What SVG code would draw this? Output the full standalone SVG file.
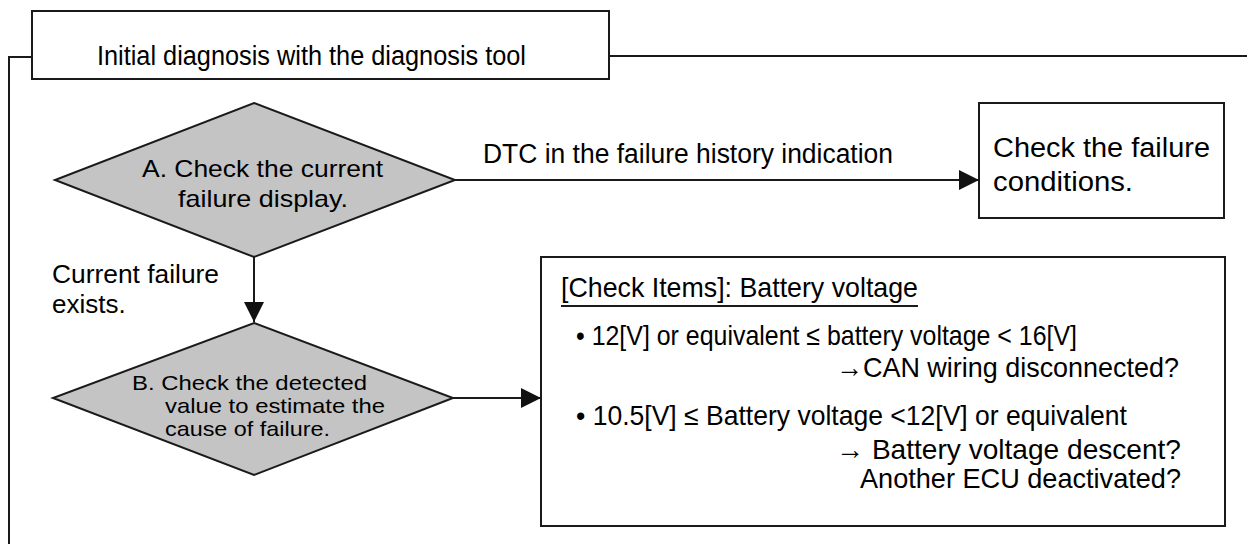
<svg xmlns="http://www.w3.org/2000/svg" width="1247" height="544" viewBox="0 0 1247 544">
<defs>
<marker id="ah" markerUnits="userSpaceOnUse" markerWidth="20" markerHeight="20" refX="20" refY="10" orient="auto" viewBox="0 0 20 20"><path d="M0,0 L20,10 L0,20 z" fill="#111"/></marker>
</defs>
<style>
text{font-family:"Liberation Sans",Arial,sans-serif;font-size:26px;fill:#000}
.box{fill:#fff;stroke:#1a1a1a;stroke-width:2}
.dia{fill:#c4c4c4;stroke:#1a1a1a;stroke-width:2}
.ln{fill:none;stroke:#1a1a1a;stroke-width:2}
.sm{font-size:21px}
.md{font-size:24px}
.lg{font-size:27px}
.bx{font-size:28px}
</style>
<g id="frame">
<path class="ln" d="M9,544 V57 H32"/>
<path class="ln" d="M609,56 H1247"/>
</g>
<g id="title">
<rect class="box" x="32" y="11" width="577" height="68"/>
<text class="lg" x="97" y="65" textLength="429" lengthAdjust="spacingAndGlyphs">Initial diagnosis with the diagnosis tool</text>
</g>
<g id="nodeA">
<polygon class="dia" points="254,103 455,180 254,257 55,180"/>
<text class="md" x="142" y="177" textLength="241" lengthAdjust="spacingAndGlyphs">A. Check the current</text>
<text class="md" x="178" y="207" textLength="170" lengthAdjust="spacingAndGlyphs">failure display.</text>
</g>
<g id="nodeCheck">
<rect class="box" x="979" y="103" width="245" height="115"/>
<text class="lg" x="993" y="157" textLength="217" lengthAdjust="spacingAndGlyphs">Check the failure</text>
<text class="lg" x="993" y="191" textLength="140" lengthAdjust="spacingAndGlyphs">conditions.</text>
</g>
<g id="nodeB">
<polygon class="dia" points="254,323 453,398 254,475 53,398"/>
<text class="sm" x="132" y="390" textLength="235" lengthAdjust="spacingAndGlyphs">B. Check the detected</text>
<text class="sm" x="165" y="413" textLength="220" lengthAdjust="spacingAndGlyphs">value to estimate the</text>
<text class="sm" x="165" y="436" textLength="165" lengthAdjust="spacingAndGlyphs">cause of failure.</text>
</g>
<g id="nodeItems">
<rect class="box" x="541" y="257" width="684" height="269"/>
<text class="bx" x="561" y="297" textLength="357" lengthAdjust="spacingAndGlyphs">[Check Items]: Battery voltage</text>
<line x1="561" y1="306" x2="918" y2="306" stroke="#1a1a1a" stroke-width="2"/>
<text class="bx" x="576" y="345" textLength="501" lengthAdjust="spacingAndGlyphs">• 12[V] or equivalent ≤ battery voltage &lt; 16[V]</text>
<text class="bx" x="836" y="377" textLength="343" lengthAdjust="spacingAndGlyphs">→CAN wiring disconnected?</text>
<text class="bx" x="576" y="425" textLength="551" lengthAdjust="spacingAndGlyphs">• 10.5[V] ≤ Battery voltage &lt;12[V] or equivalent</text>
<text class="bx" x="836" y="459" textLength="345" lengthAdjust="spacingAndGlyphs">→ Battery voltage descent?</text>
<text class="bx" x="860" y="488" textLength="321" lengthAdjust="spacingAndGlyphs">Another ECU deactivated?</text>
</g>
<g id="connectors">
<line class="ln" x1="455" y1="180" x2="979" y2="180" marker-end="url(#ah)"/>
<line class="ln" x1="254" y1="257" x2="254" y2="322" marker-end="url(#ah)"/>
<line class="ln" x1="453" y1="398" x2="541" y2="398" marker-end="url(#ah)"/>
<text class="lg" x="483" y="163" textLength="410" lengthAdjust="spacingAndGlyphs">DTC in the failure history indication</text>
<text x="52" y="283" textLength="167" lengthAdjust="spacingAndGlyphs">Current failure</text>
<text x="52" y="313">exists.</text>
</g>
</svg>
